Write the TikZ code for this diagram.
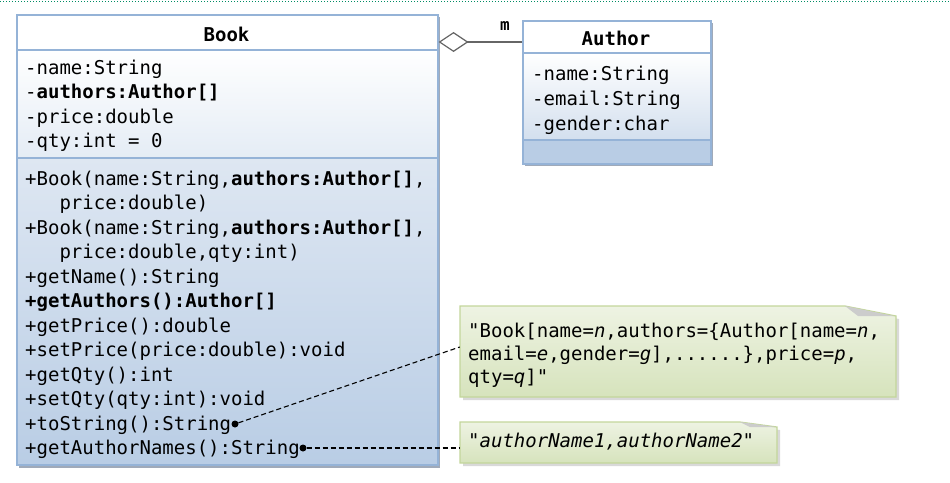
\documentclass[tikz,border=0pt]{standalone}
\usepackage{fontspec}
\newfontfamily\cons{DejaVu Sans Mono}
\usetikzlibrary{arrows.meta,calc}
\definecolor{bborder}{RGB}{149,179,215}
\definecolor{bmid}{RGB}{222,231,242}
\definecolor{battr}{RGB}{228,236,245}
\definecolor{bbot}{RGB}{185,205,229}
\definecolor{ntop}{RGB}{238,243,227}
\definecolor{nbot}{RGB}{214,227,188}
\definecolor{nborder}{RGB}{195,214,155}
\definecolor{topline}{RGB}{0,140,100}
\definecolor{shadowc}{RGB}{160,170,185}
\begin{document}
\begin{tikzpicture}[x=1pt,y=-1pt,
  txt/.style={anchor=base west, inner sep=0pt, font=\cons\fontsize{19pt}{24pt}\selectfont},
  ttl/.style={anchor=base, inner sep=0pt, font=\cons\bfseries\fontsize{19pt}{24pt}\selectfont},
  frame/.style={draw=bborder, line width=1.5pt, inner sep=0pt, anchor=north west},
  sep/.style={draw=bborder, line width=1.5pt},
  notebody/.style={top color=ntop, bottom color=nbot, draw=nborder, line width=1.2pt},
  fold/.style={fill=gray!40},
  nshadow/.style={fill=gray!30},
  dotn/.style={circle, fill=black, inner sep=0pt, minimum size=7pt},
  link/.style={dashed, dash pattern=on 5pt off 3pt, line width=1.1pt, black},
  aggr/.style={line width=1.3pt, draw=black!60, -{Diamond[open, length=30pt, width=20pt, line width=1.2pt]}}
]
\useasboundingbox (0,0) rectangle (950,482);
% top dotted border
\draw[topline, dotted, line width=1pt] (0,1) coordinate (tl) -- (950,1) coordinate (tr);

% ---------- Book class ----------
\fill[shadowc] (19,17) rectangle (440,468);
\fill[white] (16,14) rectangle (437,50);
\shade[top color=white, bottom color=battr] (16,50) rectangle (437,158);
\shade[top color=bmid, bottom color=bbot] (16,158) rectangle (437,464);
\node[frame, minimum width=421pt, minimum height=450pt] (book) at (16,14) {};
\draw[sep] (16,50) -- (437,50);
\draw[sep] (16,158) -- (437,158);
\node[ttl] (booktitle) at (226.5,41) {Book};
\node[txt] (ba1) at (25,74) {-name:String};
\node[txt] (ba2) at (25,98.6) {-\textbf{authors:Author[]}};
\node[txt] (ba3) at (25,123.2) {-price:double};
\node[txt] (ba4) at (25,147.8) {-qty:int = 0};
\node[txt] (bm1) at (25,185) {+Book(name:String,\textbf{authors:Author[]},};
\node[txt] (bm2) at (25,209.5) {\ \ \ price:double)};
\node[txt] (bm3) at (25,234) {+Book(name:String,\textbf{authors:Author[]},};
\node[txt] (bm4) at (25,258.5) {\ \ \ price:double,qty:int)};
\node[txt] (bm5) at (25,283) {+getName():String};
\node[txt] (bm6) at (25,307.5) {\textbf{+getAuthors():Author[]}};
\node[txt] (bm7) at (25,332) {+getPrice():double};
\node[txt] (bm8) at (25,356.5) {+setPrice(price:double):void};
\node[txt] (bm9) at (25,381) {+getQty():int};
\node[txt] (bm10) at (25,405.5) {+setQty(qty:int):void};
\node[txt] (bm11) at (25,430) {+toString():String};
\node[txt] (bm12) at (25,454.5) {+getAuthorNames():String};
\node[dotn] (d1) at (235,424) {};
\node[dotn] (d2) at (303,448) {};

% ---------- Author class ----------
\fill[shadowc] (525,23) rectangle (713,166);
\fill[white] (522,20) rectangle (710,53);
\shade[top color=white, bottom color=bmid!70!bbot] (522,53) rectangle (710,140);
\fill[bbot] (522,140) rectangle (710,163);
\node[frame, minimum width=188pt, minimum height=143pt] (author) at (522,20) {};
\draw[sep] (522,53) -- (710,53);
\draw[sep] (522,140) -- (710,140);
\node[ttl] (authortitle) at (616,45) {Author};
\node[txt] (aa1) at (532,80) {-name:String};
\node[txt] (aa2) at (532,105) {-email:String};
\node[txt] (aa3) at (532,130) {-gender:char};

% aggregation
\coordinate (ap) at (522,42);
\draw[aggr] (author.west |- ap) -- (book.east |- ap);
\node[inner sep=0pt, font=\cons\bfseries\fontsize{16pt}{16pt}\selectfont] (mult) at (505,26) {m};

% ---------- Note 1 ----------
\fill[nshadow] (463,309) -- (848,309) -- (899,319) -- (899,400) -- (463,400) -- cycle;
\path[notebody] (460,306) -- (845,306) -- (896,316) -- (896,397) -- (460,397) -- cycle;
\fill[fold] (845,306) -- (894,316) -- (858,316) -- cycle;
\node[inner sep=0pt, minimum width=436pt, minimum height=91pt] (note1) at (678,351.5) {};
\node[txt] (n1a) at (468,337) {"Book[name=\textit{n},authors=\{Author[name=\textit{n},};
\node[txt] (n1b) at (468,360) {email=\textit{e},gender=\textit{g}],......\},price=\textit{p},};
\node[txt] (n1c) at (468,383) {qty=\textit{q}]"};

% ---------- Note 2 ----------
\fill[nshadow] (463,425) -- (743,425) -- (780,430) -- (780,466) -- (463,466) -- cycle;
\path[notebody] (460,422) -- (740,422) -- (777,427) -- (777,463) -- (460,463) -- cycle;
\fill[fold] (740,422) -- (776,427) -- (750,427) -- cycle;
\node[inner sep=0pt, minimum width=317pt, minimum height=41pt] (note2) at (618.5,442.5) {};
\node[txt] (n2a) at (468,447) {"\textit{authorName1,authorName2}"};

% links
\draw[link] (d1) -- ([yshift=4.5pt]note1.west);
\draw[link] (d2) -- (d2 -| note2.west);
\end{tikzpicture}
\end{document}
